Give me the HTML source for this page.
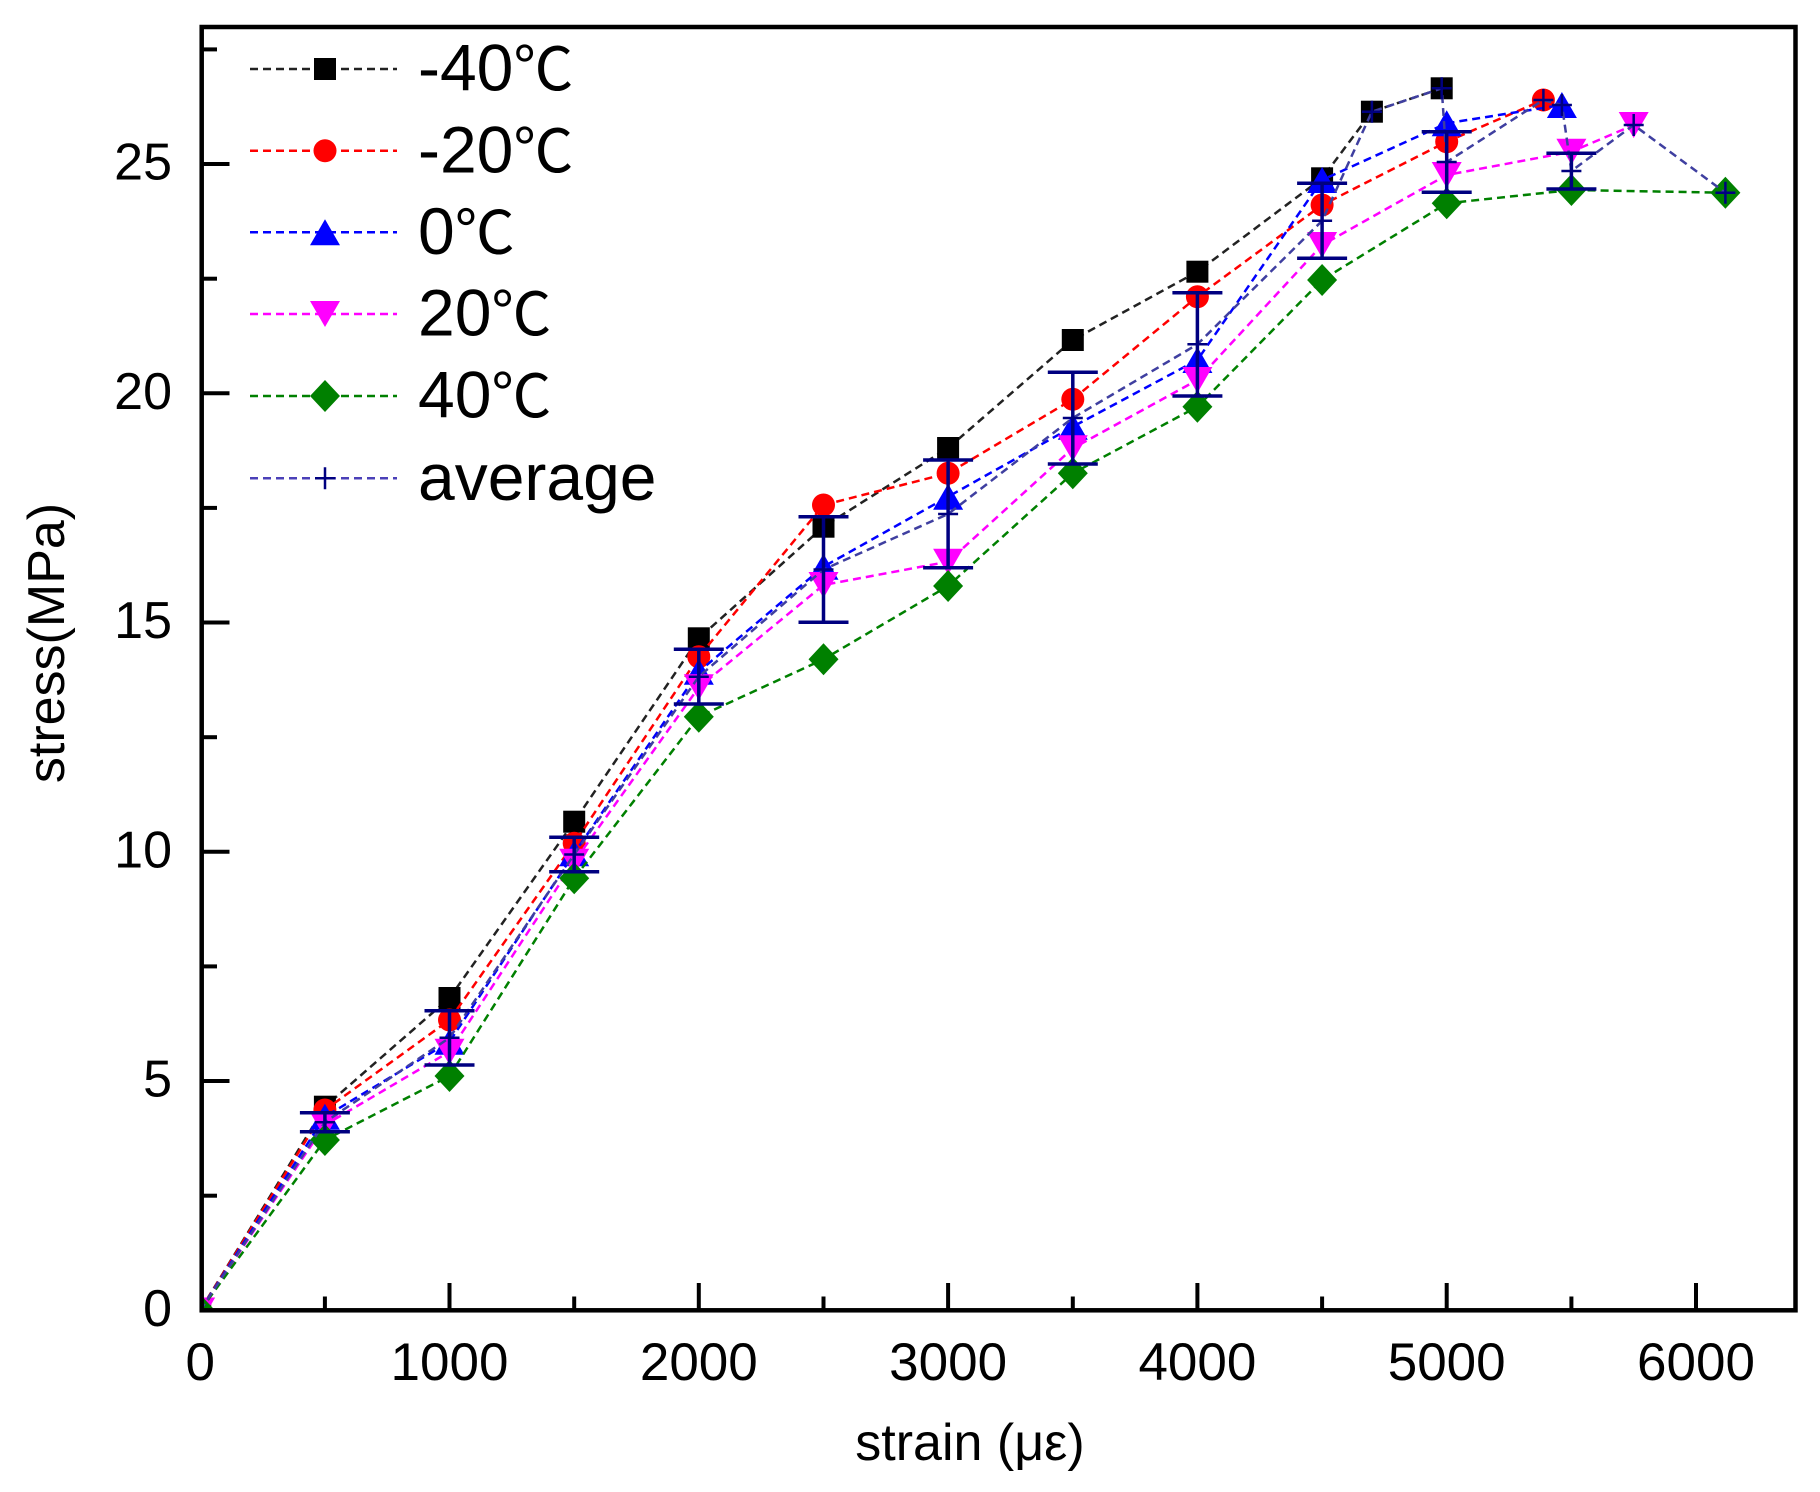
<!DOCTYPE html>
<html>
<head>
<meta charset="utf-8">
<style>
  html, body { margin:0; padding:0; background:#ffffff; }
  svg { display:block; }
  text { font-family: "Liberation Sans", "DejaVu Sans", sans-serif; fill:#000; }
</style>
</head>
<body>
<svg width="1820" height="1492" viewBox="0 0 1820 1492" xmlns="http://www.w3.org/2000/svg">
  <defs>
    <clipPath id="plotclip"><rect x="203.5" y="29.5" width="1589.5" height="1278.8"/></clipPath>
    <rect id="sq" x="-11" y="-11" width="22" height="22" fill="#000000"/>
    <circle id="ci" cx="0" cy="0" r="11.5" fill="#ff0000"/>
    <polygon id="tu" points="0,-13 15,13 -15,13" fill="#0000ff"/>
    <polygon id="td" points="0,13 -15,-13 15,-13" fill="#ff00ff"/>
    <polygon id="di" points="0,-16 15,0 0,16 -15,0" fill="#008000"/>
    <path id="pl" d="M-10,0H10M0,-11V11" stroke="#000080" stroke-width="2.5" fill="none"/>
  </defs>

  <rect x="0" y="0" width="1820" height="1492" fill="#ffffff"/>

  <!-- ticks -->
  <g stroke="#000" stroke-width="4">
    <!-- y major -->
    <line x1="201.5" y1="1081.05" x2="229.5" y2="1081.05"/>
    <line x1="201.5" y1="851.8" x2="229.5" y2="851.8"/>
    <line x1="201.5" y1="622.55" x2="229.5" y2="622.55"/>
    <line x1="201.5" y1="393.3" x2="229.5" y2="393.3"/>
    <line x1="201.5" y1="164.05" x2="229.5" y2="164.05"/>
    <!-- y minor -->
    <line x1="201.5" y1="1195.7" x2="217" y2="1195.7"/>
    <line x1="201.5" y1="966.4" x2="217" y2="966.4"/>
    <line x1="201.5" y1="737.2" x2="217" y2="737.2"/>
    <line x1="201.5" y1="507.9" x2="217" y2="507.9"/>
    <line x1="201.5" y1="278.7" x2="217" y2="278.7"/>
    <line x1="201.5" y1="49.4" x2="217" y2="49.4"/>
    <!-- x major -->
    <line x1="449.5" y1="1310.3" x2="449.5" y2="1283"/>
    <line x1="698.8" y1="1310.3" x2="698.8" y2="1283"/>
    <line x1="948.1" y1="1310.3" x2="948.1" y2="1283"/>
    <line x1="1197.4" y1="1310.3" x2="1197.4" y2="1283"/>
    <line x1="1446.7" y1="1310.3" x2="1446.7" y2="1283"/>
    <line x1="1696.0" y1="1310.3" x2="1696.0" y2="1283"/>
    <!-- x minor -->
    <line x1="324.9" y1="1310.3" x2="324.9" y2="1296.5"/>
    <line x1="574.2" y1="1310.3" x2="574.2" y2="1296.5"/>
    <line x1="823.5" y1="1310.3" x2="823.5" y2="1296.5"/>
    <line x1="1072.8" y1="1310.3" x2="1072.8" y2="1296.5"/>
    <line x1="1322.1" y1="1310.3" x2="1322.1" y2="1296.5"/>
    <line x1="1571.4" y1="1310.3" x2="1571.4" y2="1296.5"/>
  </g>

  <!-- data -->
  <g clip-path="url(#plotclip)">
    <g fill="none" stroke-width="2.5" stroke-dasharray="8 5">
      <polyline stroke="#222222" points="200.2,1310.5 324.9,1106.7 449.5,998 574.2,821.7 698.8,638.3 823.5,526.7 948.1,448 1072.8,340 1197.4,271.7 1322.1,178.3 1371.9,111.7 1441.7,88.3"/>
    </g>
    <g>
      <use href="#sq" x="200.2" y="1310.5"/><use href="#sq" x="324.9" y="1106.7"/><use href="#sq" x="449.5" y="998"/>
      <use href="#sq" x="574.2" y="821.7"/><use href="#sq" x="698.8" y="638.3"/><use href="#sq" x="823.5" y="526.7"/>
      <use href="#sq" x="948.1" y="448"/><use href="#sq" x="1072.8" y="340"/><use href="#sq" x="1197.4" y="271.7"/>
      <use href="#sq" x="1322.1" y="178.3"/><use href="#sq" x="1371.9" y="111.7"/><use href="#sq" x="1441.7" y="88.3"/>
    </g>

    <polyline fill="none" stroke-width="2.5" stroke-dasharray="8 5" stroke="#ff0000" points="200.2,1310.5 324.9,1110 449.5,1020 574.2,843.3 698.8,656.7 823.5,505 948.1,473.3 1072.8,399.3 1197.4,296.7 1322.1,205 1446.7,141.7 1543.4,100"/>
    <g>
      <use href="#ci" x="200.2" y="1310.5"/><use href="#ci" x="324.9" y="1110"/><use href="#ci" x="449.5" y="1020"/>
      <use href="#ci" x="574.2" y="843.3"/><use href="#ci" x="698.8" y="656.7"/><use href="#ci" x="823.5" y="505"/>
      <use href="#ci" x="948.1" y="473.3"/><use href="#ci" x="1072.8" y="399.3"/><use href="#ci" x="1197.4" y="296.7"/>
      <use href="#ci" x="1322.1" y="205"/><use href="#ci" x="1446.7" y="141.7"/><use href="#ci" x="1543.4" y="100"/>
    </g>

    <polyline fill="none" stroke-width="2.5" stroke-dasharray="8 5" stroke="#0000ff" points="200.2,1310.5 324.9,1116.7 449.5,1041.7 574.2,853.3 698.8,671.7 823.5,566.7 948.1,496.7 1072.8,426.7 1197.4,360 1322.1,180 1446.7,123.3 1561.9,105"/>
    <g>
      <use href="#tu" x="200.2" y="1310.5"/><use href="#tu" x="324.9" y="1116.7"/><use href="#tu" x="449.5" y="1041.7"/>
      <use href="#tu" x="574.2" y="853.3"/><use href="#tu" x="698.8" y="671.7"/><use href="#tu" x="823.5" y="566.7"/>
      <use href="#tu" x="948.1" y="496.7"/><use href="#tu" x="1072.8" y="426.7"/><use href="#tu" x="1197.4" y="360"/>
      <use href="#tu" x="1322.1" y="180"/><use href="#tu" x="1446.7" y="123.3"/><use href="#tu" x="1561.9" y="105"/>
    </g>

    <polyline fill="none" stroke-width="2.5" stroke-dasharray="8 5" stroke="#ff00ff" points="200.2,1310.5 324.9,1125 449.5,1051.7 574.2,861.7 698.8,687.3 823.5,585 948.1,561.7 1072.8,448.3 1197.4,380 1322.1,245 1446.7,175 1571.4,151.7 1633.7,125"/>
    <g>
      <use href="#td" x="200.2" y="1310.5"/><use href="#td" x="324.9" y="1125"/><use href="#td" x="449.5" y="1051.7"/>
      <use href="#td" x="574.2" y="861.7"/><use href="#td" x="698.8" y="687.3"/><use href="#td" x="823.5" y="585"/>
      <use href="#td" x="948.1" y="561.7"/><use href="#td" x="1072.8" y="448.3"/><use href="#td" x="1197.4" y="380"/>
      <use href="#td" x="1322.1" y="245"/><use href="#td" x="1446.7" y="175"/><use href="#td" x="1571.4" y="151.7"/>
      <use href="#td" x="1633.7" y="125"/>
    </g>

    <polyline fill="none" stroke-width="2.5" stroke-dasharray="8 5" stroke="#008000" points="200.2,1310.5 324.9,1140 449.5,1076 574.2,878.3 698.8,716.7 823.5,659.3 948.1,586 1072.8,473.3 1197.4,406.7 1322.1,280 1446.7,203.3 1571.4,190 1725.4,192.7"/>
    <g>
      <use href="#di" x="200.2" y="1310.5"/><use href="#di" x="324.9" y="1140"/><use href="#di" x="449.5" y="1076"/>
      <use href="#di" x="574.2" y="878.3"/><use href="#di" x="698.8" y="716.7"/><use href="#di" x="823.5" y="659.3"/>
      <use href="#di" x="948.1" y="586"/><use href="#di" x="1072.8" y="473.3"/><use href="#di" x="1197.4" y="406.7"/>
      <use href="#di" x="1322.1" y="280"/><use href="#di" x="1446.7" y="203.3"/><use href="#di" x="1571.4" y="190"/>
      <use href="#di" x="1725.4" y="192.7"/>
    </g>

    <!-- average -->
    <polyline fill="none" stroke-width="2.5" stroke-dasharray="8 5" stroke="#3f3fa0" points="200.2,1310.5 324.9,1122.2 449.5,1037.8 574.2,854.5 698.8,676.7 823.5,569.5 948.1,514 1072.8,418 1197.4,344.3 1322.1,220.8 1371.9,111.7 1441.7,88.3 1446.7,162 1543.4,100 1561.9,105 1571.4,171 1633.7,125 1725.4,192.7"/>

    <!-- error bars -->
    <g stroke="#000080" stroke-width="3.5" fill="none">
      <path d="M324.9,1112.7V1131.7M299.9,1112.7H349.9M299.9,1131.7H349.9"/>
      <path d="M449.5,1010.7V1065M424.5,1010.7H474.5M424.5,1065H474.5"/>
      <path d="M574.2,837.3V871.7M549.2,837.3H599.2M549.2,871.7H599.2"/>
      <path d="M698.8,649.3V704M673.8,649.3H723.8M673.8,704H723.8"/>
      <path d="M823.5,516.7V622.3M798.5,516.7H848.5M798.5,622.3H848.5"/>
      <path d="M948.1,460V567.7M923.1,460H973.1M923.1,567.7H973.1"/>
      <path d="M1072.8,372.3V464M1047.8,372.3H1097.8M1047.8,464H1097.8"/>
      <path d="M1197.4,292.7V396M1172.4,292.7H1222.4M1172.4,396H1222.4"/>
      <path d="M1322.1,183.3V258.3M1297.1,183.3H1347.1M1297.1,258.3H1347.1"/>
      <path d="M1446.7,131.7V192.3M1421.7,131.7H1471.7M1421.7,192.3H1471.7"/>
      <path d="M1571.4,153.3V189M1546.4,153.3H1596.4M1546.4,189H1596.4"/>
    </g>
    <g>
      <use href="#pl" x="200.2" y="1310.5"/><use href="#pl" x="324.9" y="1122.2"/><use href="#pl" x="449.5" y="1037.8"/>
      <use href="#pl" x="574.2" y="854.5"/><use href="#pl" x="698.8" y="676.7"/><use href="#pl" x="823.5" y="569.5"/>
      <use href="#pl" x="948.1" y="514"/><use href="#pl" x="1072.8" y="418"/><use href="#pl" x="1197.4" y="344.3"/>
      <use href="#pl" x="1322.1" y="220.8"/><use href="#pl" x="1371.9" y="111.7"/><use href="#pl" x="1441.7" y="88.3"/>
      <use href="#pl" x="1446.7" y="162"/><use href="#pl" x="1543.4" y="100"/><use href="#pl" x="1561.9" y="105"/>
      <use href="#pl" x="1571.4" y="171"/><use href="#pl" x="1633.7" y="125"/><use href="#pl" x="1725.4" y="192.7"/>
    </g>
  </g>

  <!-- frame -->
  <rect x="201.7" y="27" width="1593.8" height="1283.3" fill="none" stroke="#000" stroke-width="4.5"/>

  <!-- y tick labels -->
  <g font-size="52" text-anchor="end">
    <text x="172" y="1325.8">0</text>
    <text x="172" y="1096.5">5</text>
    <text x="172" y="867.3">10</text>
    <text x="172" y="638">15</text>
    <text x="172" y="408.8">20</text>
    <text x="172" y="179.5">25</text>
  </g>

  <!-- x tick labels -->
  <g font-size="53" text-anchor="middle">
    <text x="200.2" y="1380">0</text>
    <text x="449.5" y="1380">1000</text>
    <text x="698.8" y="1380">2000</text>
    <text x="948.1" y="1380">3000</text>
    <text x="1197.4" y="1380">4000</text>
    <text x="1446.7" y="1380">5000</text>
    <text x="1696.0" y="1380">6000</text>
  </g>

  <!-- axis titles -->
  <text x="970" y="1460" font-size="52" text-anchor="middle">strain (με)</text>
  <text transform="translate(64,643) rotate(-90)" font-size="52" text-anchor="middle">stress(MPa)</text>

  <!-- legend -->
  <g fill="none" stroke-width="2.5" stroke-dasharray="8 5">
    <line x1="250" y1="69" x2="397" y2="69" stroke="#222222"/>
    <line x1="250" y1="150.7" x2="397" y2="150.7" stroke="#ff0000"/>
    <line x1="250" y1="232.3" x2="397" y2="232.3" stroke="#0000ff"/>
    <line x1="250" y1="314" x2="397" y2="314" stroke="#ff00ff"/>
    <line x1="250" y1="396" x2="397" y2="396" stroke="#008000"/>
    <line x1="250" y1="478.3" x2="397" y2="478.3" stroke="#4b40b8"/>
  </g>
  <use href="#sq" x="325" y="69"/>
  <use href="#ci" x="325" y="150.7"/>
  <use href="#tu" x="325" y="232.3"/>
  <use href="#td" x="325" y="314"/>
  <use href="#di" x="325" y="396"/>
  <use href="#pl" x="325" y="478.3"/>

  <g font-size="66">
    <text x="418" y="90.7">-40<tspan font-family="'Noto Sans CJK SC', 'WenQuanYi Zen Hei', sans-serif" font-size="60">℃</tspan></text>
    <text x="418" y="172.4">-20<tspan font-family="'Noto Sans CJK SC', 'WenQuanYi Zen Hei', sans-serif" font-size="60">℃</tspan></text>
    <text x="418" y="254">0<tspan font-family="'Noto Sans CJK SC', 'WenQuanYi Zen Hei', sans-serif" font-size="60">℃</tspan></text>
    <text x="418" y="335.7">20<tspan font-family="'Noto Sans CJK SC', 'WenQuanYi Zen Hei', sans-serif" font-size="60">℃</tspan></text>
    <text x="418" y="417.7">40<tspan font-family="'Noto Sans CJK SC', 'WenQuanYi Zen Hei', sans-serif" font-size="60">℃</tspan></text>
    <text x="418" y="500">average</text>
  </g>
</svg>
</body>
</html>
